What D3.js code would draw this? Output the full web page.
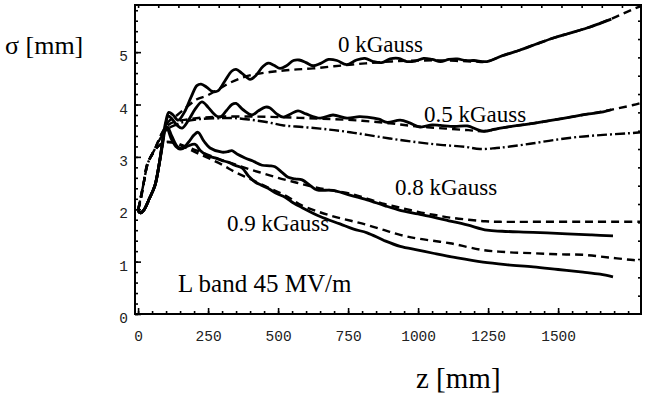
<!DOCTYPE html>
<html><head><meta charset="utf-8">
<script src="https://cdn.jsdelivr.net/npm/d3@7"></script>
<style>html,body{margin:0;padding:0;background:#fff}svg{display:block}</style>
</head><body><svg id="c" width="646" height="397"></svg>
<script>
// ---- data (z in mm, sigma in mm) ----
const xMajorTicks = [0, 250, 500, 750, 1000, 1250, 1500];
const yMajorTicks = [0, 1, 2, 3, 4, 5];
const curveLabels = ["0 kGauss", "0.5 kGauss", "0.8 kGauss", "0.9 kGauss"];
const titleText = "L band 45 MV/m";

const solid0 = [[0,1.97],[8,1.93],[20,1.98],[40,2.2],[60,2.45],[75,2.85],[88,3.3],[98,3.65],[110,3.85],[125,3.8],[143,3.70],[165,3.85],[190,4.15],[210,4.36],[225,4.39],[245,4.33],[265,4.25],[285,4.26],[310,4.45],[335,4.64],[350,4.67],[370,4.6],[400,4.48],[420,4.55],[445,4.72],[465,4.79],[485,4.75],[507,4.69],[530,4.74],[555,4.84],[575,4.85],[600,4.8],[625,4.74],[650,4.78],[680,4.86],[710,4.84],[745,4.76],[780,4.85],[810,4.88],[840,4.82],[870,4.8],[900,4.87],[930,4.88],[960,4.82],[990,4.83],[1020,4.88],[1050,4.86],[1080,4.82],[1110,4.86],[1140,4.87],[1170,4.84],[1200,4.84],[1246,4.82],[1300,4.93],[1364,5.04],[1420,5.15],[1483,5.27],[1540,5.36],[1603,5.46],[1650,5.55],[1690,5.63]];
const dash0 = [[0,1.98],[20,2.5],[35,2.88],[60,3.15],[85,3.45],[110,3.68],[140,3.8],[180,3.98],[210,4.1],[246,4.17],[293,4.31],[330,4.42],[375,4.52],[420,4.58],[471,4.62],[520,4.65],[568,4.67],[625,4.69],[700,4.73],[800,4.78],[900,4.82],[1000,4.84],[1100,4.84],[1200,4.82],[1246,4.82],[1300,4.93],[1364,5.04],[1420,5.15],[1483,5.27],[1540,5.36],[1603,5.46],[1696,5.65],[1768,5.82],[1796,5.88]];

const solid05 = [[0,1.97],[8,1.93],[20,1.98],[40,2.2],[60,2.45],[75,2.85],[88,3.25],[98,3.6],[108,3.78],[122,3.72],[140,3.6],[157,3.55],[180,3.7],[205,3.92],[228,4.05],[250,3.95],[275,3.8],[293,3.76],[315,3.88],[335,4.0],[350,4.02],[375,3.9],[407,3.8],[430,3.88],[455,3.95],[470,3.94],[495,3.82],[518,3.76],[545,3.82],[571,3.88],[600,3.82],[650,3.74],[696,3.80],[746,3.74],[790,3.77],[818,3.76],[860,3.72],[889,3.66],[936,3.70],[970,3.65],[1007,3.57],[1050,3.61],[1079,3.6],[1130,3.58],[1175,3.59],[1232,3.49],[1275,3.53],[1318,3.57],[1411,3.64],[1480,3.7],[1543,3.76],[1610,3.82],[1661,3.86],[1690,3.9]];
const dash05 = [[0,1.98],[20,2.5],[35,2.88],[60,3.15],[85,3.45],[110,3.62],[140,3.68],[180,3.72],[230,3.75],[300,3.77],[400,3.77],[500,3.76],[600,3.74],[700,3.72],[800,3.69],[900,3.64],[1000,3.58],[1100,3.54],[1180,3.51],[1232,3.49],[1318,3.57],[1411,3.64],[1543,3.76],[1661,3.87],[1768,3.99],[1796,4.03]];
const dashDot05 = [[0,1.98],[20,2.5],[35,2.88],[60,3.15],[85,3.4],[110,3.55],[130,3.6],[157,3.66],[220,3.72],[300,3.74],[346,3.74],[400,3.71],[464,3.66],[520,3.6],[586,3.57],[650,3.54],[700,3.51],[757,3.47],[818,3.42],[900,3.35],[995,3.28],[1080,3.23],[1171,3.19],[1221,3.15],[1280,3.17],[1318,3.19],[1400,3.25],[1483,3.32],[1570,3.38],[1661,3.42],[1750,3.45],[1796,3.47]];

const solid08 = [[0,1.97],[8,1.93],[20,1.98],[40,2.2],[60,2.45],[75,2.85],[85,3.2],[95,3.52],[105,3.57],[120,3.4],[140,3.2],[157,3.16],[180,3.28],[200,3.42],[214,3.47],[235,3.3],[257,3.17],[300,3.09],[320,3.1],[335,3.12],[355,3.05],[382,2.98],[410,2.92],[443,2.84],[470,2.83],[489,2.81],[515,2.7],[536,2.61],[560,2.58],[586,2.56],[615,2.45],[639,2.37],[696,2.36],[750,2.28],[818,2.18],[880,2.07],[936,1.98],[1000,1.91],[1054,1.85],[1110,1.78],[1175,1.70],[1246,1.60],[1300,1.58],[1411,1.56],[1532,1.53],[1620,1.51],[1696,1.49]];
const dash08 = [[0,1.98],[10,2.2],[20,2.5],[32,2.85],[45,3.0],[68,3.18],[90,3.27],[120,3.28],[160,3.22],[200,3.14],[250,3.04],[300,2.94],[350,2.85],[400,2.76],[450,2.68],[500,2.6],[550,2.53],[600,2.46],[650,2.4],[700,2.35],[757,2.3],[820,2.2],[880,2.1],[936,2.03],[1000,1.95],[1060,1.89],[1114,1.84],[1180,1.8],[1240,1.77],[1293,1.76],[1400,1.76],[1600,1.76],[1796,1.76]];

const solid09 = [[0,1.97],[8,1.93],[20,1.98],[40,2.2],[60,2.45],[75,2.85],[85,3.2],[95,3.5],[103,3.55],[118,3.35],[135,3.2],[150,3.15],[175,3.2],[204,3.24],[222,3.12],[245,3.03],[275,2.98],[300,2.93],[321,2.9],[345,2.84],[371,2.79],[395,2.63],[418,2.52],[440,2.46],[464,2.4],[495,2.3],[525,2.23],[555,2.12],[586,2.03],[650,1.86],[721,1.72],[770,1.62],[818,1.55],[880,1.4],[936,1.29],[1000,1.22],[1054,1.16],[1140,1.07],[1232,0.99],[1320,0.94],[1411,0.9],[1500,0.85],[1589,0.8],[1650,0.76],[1696,0.71]];
const dash09 = [[0,1.98],[10,2.2],[20,2.5],[32,2.85],[45,3.0],[68,3.18],[90,3.27],[120,3.28],[160,3.2],[200,3.1],[250,2.98],[300,2.85],[350,2.7],[400,2.58],[450,2.45],[500,2.33],[540,2.22],[575,2.1],[640,1.96],[700,1.86],[760,1.78],[818,1.70],[880,1.6],[936,1.51],[1000,1.44],[1114,1.35],[1232,1.22],[1320,1.18],[1411,1.16],[1500,1.14],[1589,1.13],[1680,1.08],[1768,1.03],[1796,1.02]];

// ---- layout ----
const svg = d3.select("#c");
const L = 135, R = 641, T = 5, B = 314;
const x = d3.scaleLinear().domain([-11, 1796]).range([L, R]);
const y = d3.scaleLinear().domain([0, 5.9]).range([B, T]);
const serif = "'Liberation Serif','Times New Roman',serif";
const mono = "'Liberation Mono','Courier New',monospace";

// axes
const gB = svg.append("g").attr("transform", `translate(0,${B})`);
gB.call(d3.axisBottom(x).tickValues(d3.range(0, 1796, 50)).tickSize(-3).tickFormat(""));
gB.append("g").call(d3.axisBottom(x).tickValues(xMajorTicks).tickSize(-6).tickPadding(17).tickFormat(d => d));
const gL = svg.append("g").attr("transform", `translate(${L},0)`);
gL.call(d3.axisLeft(y).tickValues(d3.range(0, 5.9, 0.2)).tickSize(-3).tickFormat(""));
gL.append("g").call(d3.axisLeft(y).tickValues(yMajorTicks).tickSize(-6).tickPadding(7).tickFormat(d => d));
const gT = svg.append("g").attr("transform", `translate(0,${T})`);
gT.call(d3.axisTop(x).tickValues(d3.range(0, 1796, 72)).tickSize(-3).tickFormat(""));
const gR = svg.append("g").attr("transform", `translate(${R},0)`);
gR.call(d3.axisRight(y).tickValues(d3.range(0.35, 5.9, 0.35)).tickSize(-3).tickFormat(""));
svg.selectAll(".domain").remove();
svg.selectAll(".tick line").attr("stroke", "#000").attr("stroke-width", 1.6);
svg.selectAll(".tick text").attr("font-family", mono).attr("font-size", 14.5).attr("fill", "#222");
gL.selectAll(".tick text").attr("dy", "0.6em");

svg.append("rect").attr("x", L).attr("y", T).attr("width", R - L).attr("height", B - T)
  .attr("fill", "none").attr("stroke", "#000").attr("stroke-width", 2);

// curves
const line = d3.line().x(d => x(d[0])).y(d => y(d[1])).curve(d3.curveCatmullRom.alpha(0.5));
const series = [
  [solid0, null], [dash0, "8,5"],
  [solid05, null], [dash05, "8,5"], [dashDot05, "10,3,2,3"],
  [solid08, null], [dash08, "8,5"],
  [solid09, null], [dash09, "8,5"]
];
series.forEach(([d, dash]) => {
  svg.append("path").datum(d).attr("d", line)
    .attr("fill", "none").attr("stroke", "#000")
    .attr("stroke-width", dash ? 2.4 : 2.8)
    .attr("stroke-linejoin", "round")
    .attr("stroke-dasharray", dash);
});

// labels
const labelPos = [[338, 52], [424, 122], [395, 195], [227, 231]];
curveLabels.forEach((t, i) => {
  svg.append("text").attr("x", labelPos[i][0]).attr("y", labelPos[i][1])
    .attr("font-family", serif).attr("font-size", 23).attr("fill", "#000").text(t);
});
svg.append("text").attr("x", 178).attr("y", 292).attr("font-family", serif)
  .attr("font-size", 25).text(titleText);
svg.append("text").attr("x", 5).attr("y", 54).attr("font-family", serif)
  .attr("font-size", 26).text("σ [mm]");
svg.append("text").attr("x", 416).attr("y", 388).attr("font-family", serif)
  .attr("font-size", 29).text("z [mm]");
</script></body></html>
